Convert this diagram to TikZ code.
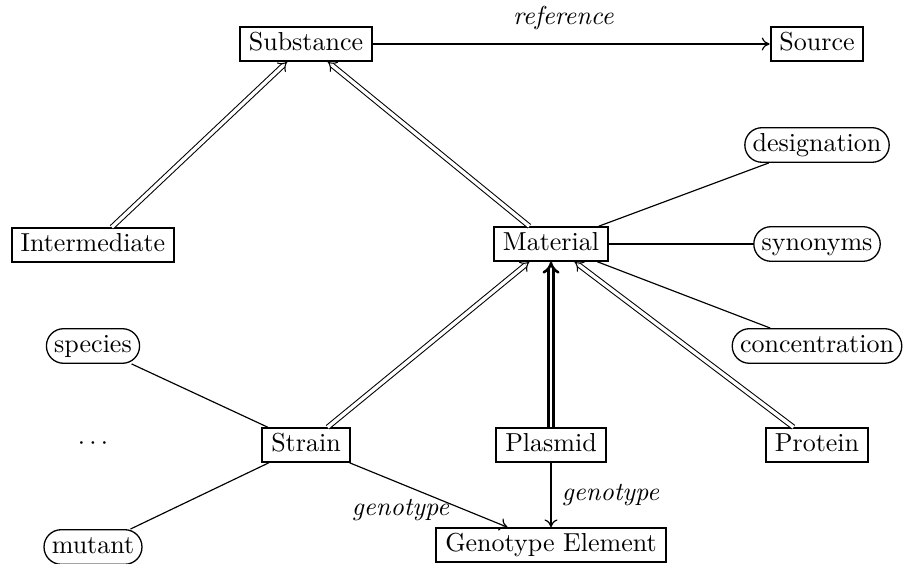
\documentclass[tikz,border=0pt]{standalone}
\usetikzlibrary{arrows.meta}
\begin{document}
\begin{tikzpicture}[x=0.3846pt,y=0.3846pt,
  box/.style={draw, line width=0.75pt, inner xsep=3.4pt, inner ysep=0pt, text height=6.9pt, text depth=1.95pt, minimum height=12.9pt},
  attr/.style={draw, line width=0.5pt, rounded corners=6.6pt, inner xsep=3pt, inner ysep=0pt, text height=6.9pt, text depth=1.95pt, minimum height=13.3pt},
  lbl/.style={font=\itshape, inner sep=1pt},
  plain/.style={line width=0.45pt},
  arr/.style={line width=0.45pt, -{Computer Modern Rightarrow[length=3pt,width=5pt]}},
  isa/.style={double, double distance=1.3pt, line width=0.4pt, -{Implies[scale=1.5]}},
  isabold/.style={double, double distance=1.1pt, line width=1pt, -{Implies}},
]
\useasboundingbox (0,0) rectangle (906,564);

\node[box] (sub) at (306,520) {Substance};
\node[box] (src) at (817,520) {Source};
\node[box] (int) at (93,319) {Intermediate};
\node[box] (mat) at (551,320) {Material};
\node[attr] (des) at (817,419) {designation};
\node[attr] (syn) at (817,320) {synonyms};
\node[attr] (con) at (817,218) {concentration};
\node[attr] (spe) at (93,218) {species};
\node (dots) at (93,120) {$\cdots$};
\node[attr] (mut) at (93,17) {mutant};
\node[box] (str) at (306,119) {Strain};
\node[box] (pla) at (551,119) {Plasmid};
\node[box] (pro) at (817,119) {Protein};
\node[box] (gen) at (551,19) {Genotype Element};

\draw[arr] (sub) -- node[lbl, above=4.4pt, pos=0.48] {reference} (src);
\draw[isa] (int) -- (sub);
\draw[isa] (mat) -- (sub);
\draw[plain] (mat) -- (des);
\draw[plain] (mat) -- (syn);
\draw[plain] (mat) -- (con);
\draw[isa] (str) -- (mat);
\draw[isabold] (pla) -- (mat);
\draw[isa] (pro) -- (mat);
\draw[plain] (str) -- (spe);
\draw[plain] (str) -- (mut);
\draw[arr] (str) -- node[lbl, midway, shift={(-28,-15)}] {genotype} (gen);
\draw[arr] (pla) -- node[lbl, right=3pt] {genotype} (gen);
\end{tikzpicture}
\end{document}
